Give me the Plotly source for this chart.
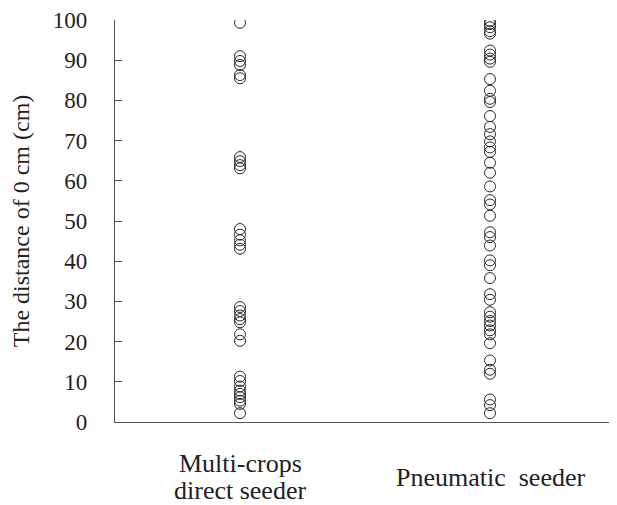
import plotly.graph_objects as go

categories = ["Multi-crops<br>direct seeder", "Pneumatic  seeder"]

multi_crops = [99.3, 91.0, 89.8, 88.8, 86.3, 85.5,
               65.9, 64.9, 63.9, 63.1,
               48.0, 46.6, 45.2, 44.1, 43.1,
               28.6, 27.6, 26.5, 25.6, 24.8, 21.8, 20.2,
               11.3, 10.2, 8.8, 7.8, 7.0, 6.2, 5.3, 4.5, 2.2]

pneumatic = [99.8, 99.0, 98.2, 97.2, 96.6,
             92.4, 91.4, 90.4, 89.6,
             85.3, 82.4, 80.4, 79.6, 76.1,
             73.4, 71.6, 69.8, 68.3, 67.2, 64.5, 62.0, 58.6,
             55.2, 54.1, 51.3, 47.2, 46.0, 43.9,
             40.2, 39.0, 35.8, 31.8, 30.4,
             27.3, 26.2, 25.1, 24.0, 22.8, 21.8, 19.6,
             15.3, 13.0, 12.0, 5.6, 4.2, 2.2]

y_ticks = [0, 10, 20, 30, 40, 50, 60, 70, 80, 90, 100]

series = [multi_crops, pneumatic]

fig = go.Figure()
for i, vals in enumerate(series):
    fig.add_trace(go.Scatter(
        x=[i] * len(vals), y=vals, mode="markers",
        marker=dict(symbol="circle-open", size=11, color="#2a2a2a",
                    line=dict(width=1.0, color="#2a2a2a")),
        showlegend=False, hoverinfo="y"))

label_font = dict(family="Liberation Serif", size=26, color="#222222")
line_gap = 27
center_shift = -55
for i, label in enumerate(categories):
    lines = label.split("<br>")
    n = len(lines)
    for j, line in enumerate(lines):
        offset = (j - (n - 1) / 2) * line_gap
        fig.add_annotation(x=i, xref="x", y=0, yref="paper", text=line,
                           showarrow=False, yanchor="middle", xanchor="center",
                           yshift=center_shift - offset, font=label_font)

tick_font = dict(family="Liberation Serif", size=23, color="#222222")
title_font = dict(family="Liberation Serif", size=24, color="#222222")
fig.update_layout(
    width=617, height=505,
    margin=dict(l=107, r=10, t=12, b=91),
    paper_bgcolor="white", plot_bgcolor="white",
    xaxis=dict(range=[-0.5, 1.5], showticklabels=False, ticks="",
               showgrid=False, zeroline=False, showline=True,
               linecolor="#555555", linewidth=1.2, automargin=False),
    yaxis=dict(range=[0, 100], tickvals=y_ticks, ticks="inside", ticklen=7,
               tickcolor="#555555", showgrid=False, zeroline=False,
               showline=True, linecolor="#555555", linewidth=1.2,
               automargin=False,
               tickfont=tick_font, ticklabelstandoff=22,
               title=dict(text="The distance of 0 cm (cm)", font=title_font, standoff=16)),
)

fig.write_html("out.html")
